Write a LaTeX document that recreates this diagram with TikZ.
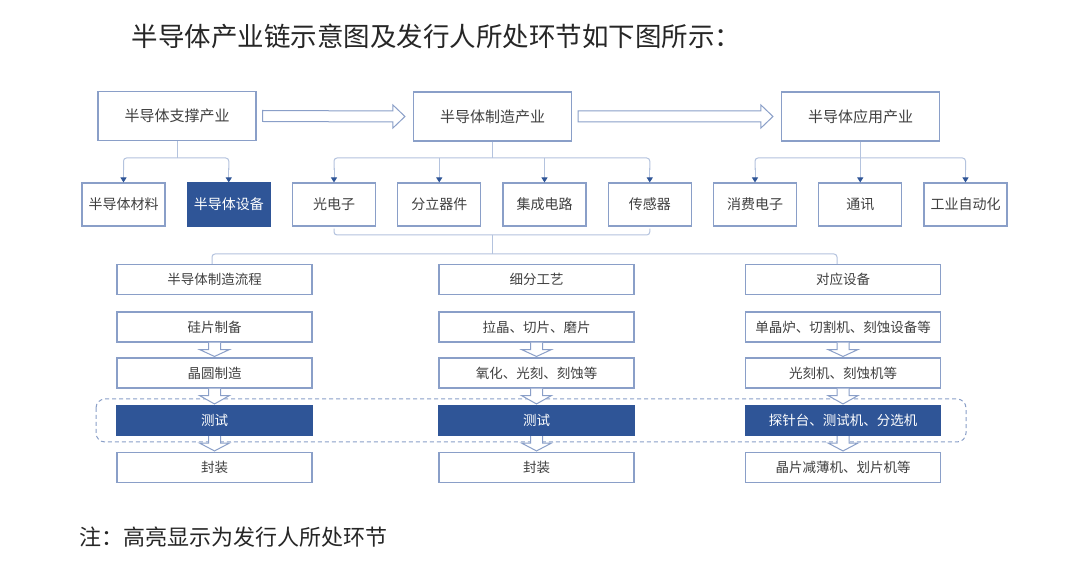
\documentclass[tikz,border=0pt]{standalone}
\usepackage{fontspec}
\setmainfont{Noto Sans CJK SC}
\usetikzlibrary{calc,arrows.meta}
\definecolor{bd}{HTML}{8A9FC8}
\definecolor{dk}{HTML}{2F5597}
\definecolor{ln}{HTML}{B4C3DE}
\definecolor{tx}{HTML}{404040}
\newcommand\dnarrow[2]{\draw[harrow] ($(#1.south)+(-6,0)$) -- ($(#1.south)+(-6,7)$) -- ($(#1.south)+(-15,7)$) -- ($(#2.north)+(0,-1)$) -- ($(#1.south)+(15,7)$) -- ($(#1.south)+(6,7)$) -- ($(#1.south)+(6,0)$);}
\newcommand\rtarrow[2]{\draw[harrow] ($(#1.east)+(6,-5.5)$) -- ($(#2.west)+(-20,-5.5)$) -- ($(#2.west)+(-20,-11.5)$) -- ($(#2.west)+(-8,0)$) -- ($(#2.west)+(-20,11.5)$) -- ($(#2.west)+(-20,5.5)$) -- ($(#1.east)+(6,5.5)$) -- cycle;}
\begin{document}
\begin{tikzpicture}[x=1pt,y=-1pt,
  box/.style={draw=bd,line width=1.1pt,fill=white,text=tx,inner sep=0pt,align=center},
  topbox/.style={box,minimum width=158pt,minimum height=49pt,font=\fontsize{15}{15}\selectfont},
  midbox/.style={box,minimum width=83pt,minimum height=43pt,font=\fontsize{14}{14}\selectfont},
  lowbox/.style={box,minimum width=195pt,minimum height=30pt,font=\fontsize{13.5}{13.5}\selectfont},
  hl/.style={fill=dk,draw=dk,text=white},
  cn/.style={draw=ln,line width=1pt,rounded corners=3pt},
  tip/.style={draw=ln,line width=1pt,-{Triangle[width=6pt,length=5pt,color=dk]}},
  harrow/.style={draw=bd,line width=1pt,fill=white,line join=miter},
]
\useasboundingbox (0,0) rectangle (1080,561);
\fill[white] (0,0) rectangle (1080,561);

\node[anchor=west,text=black!85,font=\fontsize{26.5}{26.5}\selectfont] (title) at (128,36) {半导体产业链示意图及发行人所处环节如下图所示：};
\node[anchor=west,text=black!85,font=\fontsize{22}{22}\selectfont] (note) at (76,537) {注：高亮显示为发行人所处环节};

% top row
\node[topbox] (sup) at (177,116) {半导体支撑产业};
\node[topbox] (mfg) at (492.5,116.5) {半导体制造产业};
\node[topbox] (app) at (860.5,116.5) {半导体应用产业};
\rtarrow{sup}{mfg}
\rtarrow{mfg}{app}

% second row
\node[midbox] (mat) at (123.5,204.5) {半导体材料};
\node[midbox,hl] (equ) at (228.75,204.5) {半导体设备};
\node[midbox] (opt) at (334,204.5) {光电子};
\node[midbox] (dis) at (439.25,204.5) {分立器件};
\node[midbox] (ic) at (544.5,204.5) {集成电路};
\node[midbox] (sen) at (649.75,204.5) {传感器};
\node[midbox] (con) at (755,204.5) {消费电子};
\node[midbox] (com) at (860.25,204.5) {通讯};
\node[midbox] (ind) at (965.5,204.5) {工业自动化};

\coordinate (jy) at (0,158);
\draw[cn] (sup.south) -- (sup.south |- jy);
\draw[cn] (mat.north |- 0,170) -- (mat.north |- jy) -- (equ.north |- jy) -- (equ.north |- 0,170);
\foreach \n in {mat,equ} \draw[tip] (\n.north |- 0,168) -- (\n.north);

\draw[cn] (mfg.south) -- (mfg.south |- jy);
\draw[cn] (opt.north |- 0,170) -- (opt.north |- jy) -- (sen.north |- jy) -- (sen.north |- 0,170);
\draw[cn] (dis.north |- jy) -- (dis.north |- 0,170);
\draw[cn] (ic.north |- jy) -- (ic.north |- 0,170);
\foreach \n in {opt,dis,ic,sen} \draw[tip] (\n.north |- 0,168) -- (\n.north);

\draw[cn] (app.south) -- (app.south |- jy);
\draw[cn] (con.north |- 0,170) -- (con.north |- jy) -- (ind.north |- jy) -- (ind.north |- 0,170);
\draw[cn] (com.north |- jy) -- (com.north |- 0,170);
\foreach \n in {con,com,ind} \draw[tip] (\n.north |- 0,168) -- (\n.north);

% lower columns
\node[lowbox] (h1) at (214.5,279.5) {半导体制造流程};
\node[lowbox] (h2) at (536.5,279.5) {细分工艺};
\node[lowbox] (h3) at (843,279.5) {对应设备};

\node[lowbox] (a1) at (214.5,327) {硅片制备};
\node[lowbox] (a2) at (214.5,373) {晶圆制造};
\node[lowbox,hl] (a3) at (214.5,420.5) {测试};
\node[lowbox] (a4) at (214.5,467.5) {封装};

\node[lowbox] (b1) at (536.5,327) {拉晶、切片、磨片};
\node[lowbox] (b2) at (536.5,373) {氧化、光刻、刻蚀等};
\node[lowbox,hl] (b3) at (536.5,420.5) {测试};
\node[lowbox] (b4) at (536.5,467.5) {封装};

\node[lowbox] (c1) at (843,327) {单晶炉、切割机、刻蚀设备等};
\node[lowbox] (c2) at (843,373) {光刻机、刻蚀机等};
\node[lowbox,hl] (c3) at (843,420.5) {探针台、测试机、分选机};
\node[lowbox] (c4) at (843,467.5) {晶片减薄机、划片机等};

% bracket from middle boxes to columns
\coordinate (by) at (0,235);
\coordinate (ly) at (0,254);
\draw[cn] ($(opt.south)+(0,2)$) -- (opt.south |- by) -- (sen.south |- by) -- ($(sen.south)+(0,2)$);
\draw[cn] (mfg.south |- by) -- (mfg.south |- ly);
\draw[cn] ($(h1.north)+(-2.5,0)$) -- ($(h1.north |- ly)+(-2.5,0)$) -- ($(h3.north |- ly)+(-6,0)$) -- ($(h3.north)+(-6,0)$);

% dashed highlight frame
\draw[draw=bd,line width=1pt,dash pattern=on 4pt off 3pt,rounded corners=9pt] (96,399) rectangle (966,442);

% hollow down arrows
\foreach \c in {a,b,c} {
  \dnarrow{\c1}{\c2}
  \dnarrow{\c2}{\c3}
  \dnarrow{\c3}{\c4}
}
\end{tikzpicture}
\end{document}
